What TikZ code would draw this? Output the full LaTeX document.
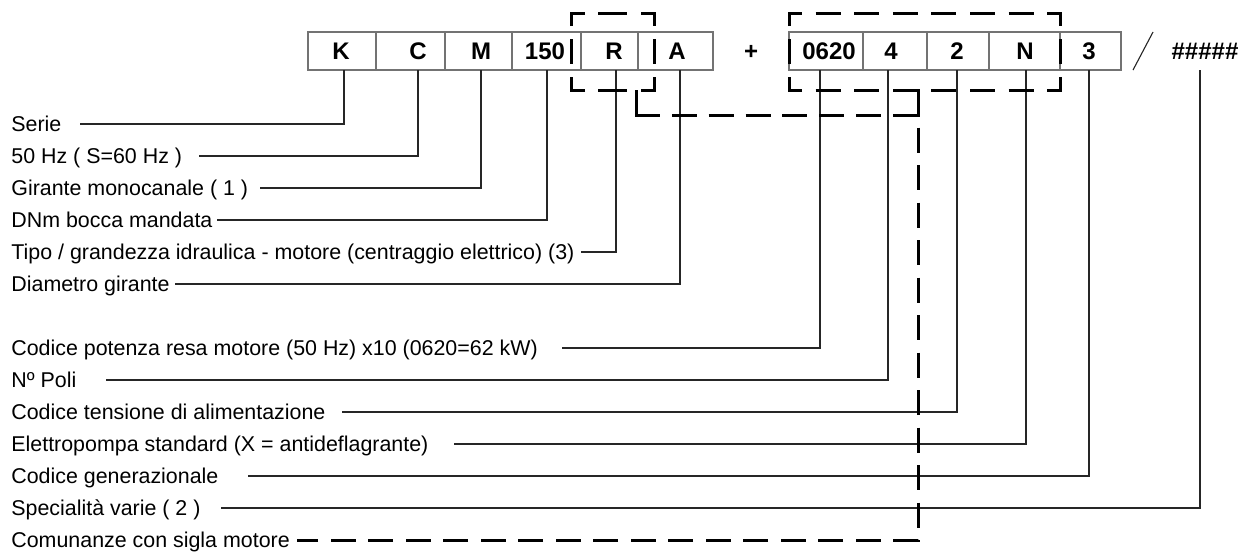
\documentclass[tikz,border=0pt]{standalone}
\usepackage{fontspec}
\setmainfont{Liberation Sans}
\begin{document}
\begin{tikzpicture}[x=0.5pt,y=-0.5pt,
  cell/.style={draw=black!55, line width=0.6pt, minimum height=19pt, inner sep=0pt, anchor=center},
  code/.style={font=\fontsize{12}{14}\selectfont\bfseries, inner sep=0pt, text height=8.6pt, text depth=0pt, anchor=center},
  lbl/.style={font=\fontsize{10.7}{12}\selectfont, inner sep=0pt, anchor=west, text height=7.6pt, text depth=0pt},
  conn/.style={draw=black!85, line width=0.55pt},
  dsh/.style={draw=black, line width=1.5pt, line cap=butt, line join=miter}
]
\useasboundingbox (0,0) rectangle (1240,554);

% --- code cells, group 1
\node[cell, minimum width=34pt]   (cK)   at (342,51)    {};
\node[cell, minimum width=34.5pt] (cC)   at (410.5,51)  {};
\node[cell, minimum width=33.5pt] (cM)   at (478.5,51)  {};
\node[cell, minimum width=34.5pt] (c150) at (546.5,51)  {};
\node[cell, minimum width=28.5pt] (cR)   at (609.5,51)  {};
\node[cell, minimum width=37.5pt] (cA)   at (675.5,51)  {};
% --- code cells, group 2
\node[cell, minimum width=37pt]   (c0620) at (826,51)    {};
\node[cell, minimum width=32pt]   (c4)    at (895,51)    {};
\node[cell, minimum width=31pt]   (c2)    at (958,51)    {};
\node[cell, minimum width=35.5pt] (cN)    at (1024.5,51) {};
\node[cell, minimum width=30.5pt] (c3)    at (1090.5,51) {};

% --- code texts
\node[code] (tK)    at (341,51)  {K};
\node[code] (tC)    at (418,51)  {C};
\node[code] (tM)    at (481,51)  {M};
\node[code] (t150)  at (545,51)  {150};
\node[code] (tR)    at (614,51)  {R};
\node[code] (tA)    at (677,51)  {A};
\node[code] (tplus) at (751,51)  {+};
\node[code] (t0620) at (829,51)  {0620};
\node[code] (t4)    at (891,51)  {4};
\node[code] (t2)    at (957,51)  {2};
\node[code] (tN)    at (1025,51) {N};
\node[code] (t3)    at (1089,51) {3};
\node[code] (tH)    at (1205,51) {\#\#\#\#\#};

% slash
\coordinate (s1) at (1153,32);
\coordinate (s2) at (1133,70);
\draw[conn] (s1) -- (s2);

% connector end points at the cell bottoms
\coordinate (pK)    at (344,70);
\coordinate (pC)    at (418,70);
\coordinate (pM)    at (481,70);
\coordinate (p150)  at (547,70);
\coordinate (pR)    at (616,70);
\coordinate (pA)    at (680,70);
\coordinate (p0620) at (820,70);
\coordinate (p4)    at (888,70);
\coordinate (p2)    at (957,70);
\coordinate (pN)    at (1026,70);
\coordinate (p3)    at (1089,70);
\coordinate (pH)    at (1200,70);

% --- labels
\node[lbl] (lSerie) at (11,124) {Serie};
\node[lbl] (lHz)    at (11,156) {50 Hz ( S=60 Hz )};
\node[lbl] (lGir)   at (11,188) {Girante monocanale ( 1 )};
\node[lbl] (lDN)    at (11,220) {DNm bocca mandata};
\node[lbl] (lTipo)  at (11,252) {Tipo / grandezza idraulica - motore (centraggio elettrico) (3)};
\node[lbl] (lDia)   at (11,284) {Diametro girante};
\node[lbl] (lPot)   at (11,348) {Codice potenza resa motore (50 Hz) x10 (0620=62 kW)};
\node[lbl] (lPoli)  at (11,380) {Nº Poli};
\node[lbl] (lTen)   at (11,412) {Codice tensione di alimentazione};
\node[lbl] (lEl)    at (11,444) {Elettropompa standard (X = antideflagrante)};
\node[lbl] (lGen)   at (11,476) {Codice generazionale};
\node[lbl] (lSpec)  at (11,508) {Specialità varie ( 2 )};
\node[lbl] (lCom)   at (11,540) {Comunanze con sigla motore};

% --- connectors
\draw[conn] (lSerie.east -| 80,0)  -| (pK);
\draw[conn] (lHz.east -| 199,0)    -| (pC);
\draw[conn] (lGir.east -| 260,0)   -| (pM);
\draw[conn] (lDN.east -| 217,0)    -| (p150);
\draw[conn] (lTipo.east -| 581,0)  -| (pR);
\draw[conn] (lDia.east -| 175,0)   -| (pA);
\draw[conn] (lPot.east -| 562,0)   -| (p0620);
\draw[conn] (lPoli.east -| 106,0)  -| (p4);
\draw[conn] (lTen.east -| 342,0)   -| (p2);
\draw[conn] (lEl.east -| 454,0)    -| (pN);
\draw[conn] (lGen.east -| 248,0)   -| (p3);
\draw[conn] (lSpec.east -| 221,0)  -| (pH);

% --- dashed frame around R
\draw[dsh] (571,26) -- (571,13) -- (585,13);
\draw[dsh] (641,13) -- (654,13) -- (654,26);
\draw[dsh] (654,77) -- (654,90) -- (641,90);
\draw[dsh] (585,90) -- (571,90) -- (571,77);
\draw[dsh] (598,13) -- (627,13);
\draw[dsh] (598,90) -- (627,90);
\draw[dsh] (571,39) -- (571,64);
\draw[dsh] (654,39) -- (654,64);

% --- dashed frame around motor part
\draw[dsh] (789,26) -- (789,13) -- (802,13);
\draw[dsh] (1047,13) -- (1060,13) -- (1060,26);
\draw[dsh] (1060,77) -- (1060,90) -- (1047,90);
\draw[dsh] (802,90) -- (789,90) -- (789,77);
\draw[dsh] (789,39) -- (789,64);
\draw[dsh] (1060,39) -- (1060,64);
\foreach \x in {815.6,854.2,892.8,931.4,970,1008.6}
  \draw[dsh] (\x,13) -- ++(25,0);
\foreach \x in {815.6,854.2,931.4,970,1008.6}
  \draw[dsh] (\x,90) -- ++(25,0);

% --- dashed link R -> motor frame
\draw[dsh] (636,90) -- (636,115) -- (660,115);
\foreach \x in {671.9,708.7,745.6,782.4,819.3,856.2}
  \draw[dsh] (\x,115) -- ++(25,0);
\draw[dsh] (893,115) -- (918,115) -- (918,90) -- (892.8,90);

% --- dashed connector to "Comunanze con sigla motore"
\draw[dsh, dash pattern=on 12.5pt off 6.25pt, dash phase=12.5pt]
  (918,115) -- (918,540) -- (lCom.east -| 297,0);
\end{tikzpicture}
\end{document}
